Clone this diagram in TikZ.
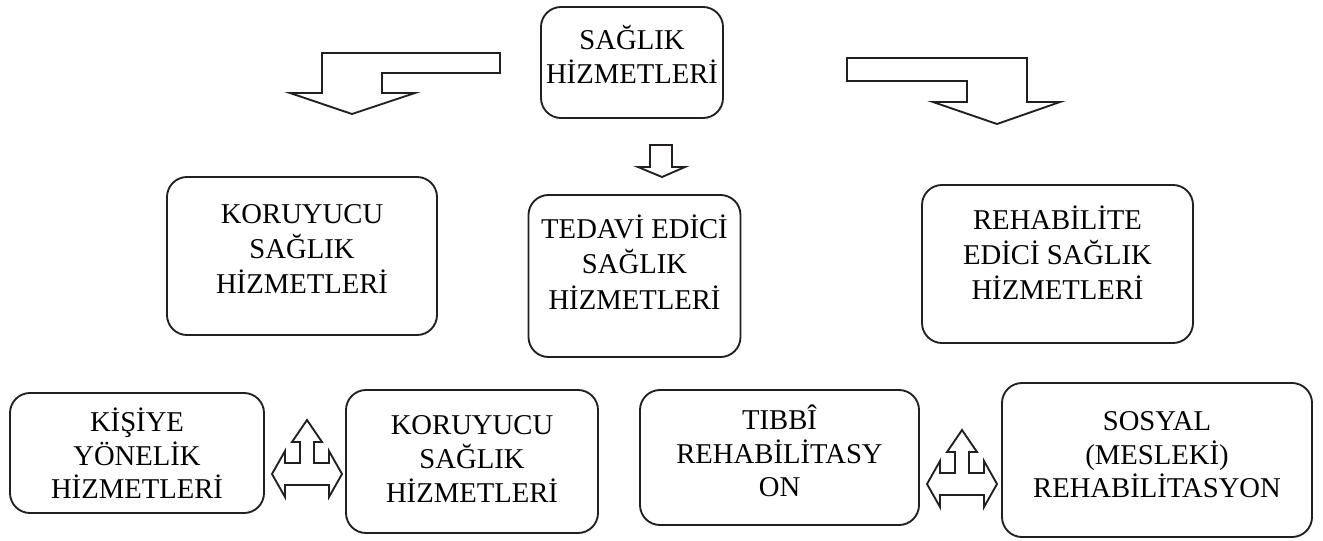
\documentclass[tikz,border=0pt]{standalone}
\usepackage{fontspec}
\setmainfont{Liberation Serif}
\usepackage{tikz}
\usetikzlibrary{positioning}
\definecolor{RichBlack}{cmyk}{0, 0, 0, 1.00}
% text block, raised by #1 without moving the box
\newcommand{\liftup}[2]{\raisebox{#1}[\height][\depth]{\begin{tabular}{@{}c@{}}#2\end{tabular}}}
\tikzset{%
  service/.style={%
    rectangle,%
    rounded corners=15pt,%
    draw=RichBlack,%
    line width=1.4pt,%
    font={\fontsize{21.5}{26.5}\selectfont},%
    inner sep=0pt%
  },
  service_low/.style={%
    service,%
    font={\fontsize{21.5}{25}\selectfont}%
  },
  hollow_arrow/.style={%
    draw=RichBlack,%
    line width=1.4pt,%
    line join=miter,%
    fill=white%
  },
  fork_arrow/.pic={%
    \draw[hollow_arrow] (-35,0) -- (-22,-23) -- (-22,-11) -- (-7,-11)
      -- (-7,-32) -- (-15,-32) -- (0,-54) -- (15,-32) -- (7,-32)
      -- (7,-11) -- (22,-11) -- (22,-23) -- (35,0) -- (22,23)
      -- (22,11) -- (-22,11) -- (-22,23) -- cycle;
  },
}

\begin{document}
\begin{tikzpicture}[x=0.75pt, y=-0.75pt]
  \useasboundingbox (0,0) rectangle (1323,540);

  \node[service_low, minimum width=182*0.75pt, minimum height=111*0.75pt] (SH) at (632,62.5) {\liftup{2.4pt}{SAĞLIK\\HİZMETLERİ}};
  \node[service, minimum width=270*0.75pt, minimum height=158*0.75pt] (KS) at (302,256) {\liftup{3.5pt}{KORUYUCU\\SAĞLIK\\HİZMETLERİ}};
  \node[service, minimum width=212*0.75pt, minimum height=162*0.75pt] (TS) at (634.5,276) {\liftup{7pt}{TEDAVİ EDİCİ\\SAĞLIK\\HİZMETLERİ}};
  \node[service, minimum width=271*0.75pt, minimum height=158*0.75pt] (RS) at (1057.5,264) {\liftup{5pt}{REHABİLİTE\\EDİCİ SAĞLIK\\HİZMETLERİ}};
  \node[service_low, minimum width=254*0.75pt, minimum height=120*0.75pt] (KY) at (137,453) {\liftup{-4pt}{KİŞİYE\\YÖNELİK\\HİZMETLERİ}};
  \node[service_low, minimum width=252*0.75pt, minimum height=143*0.75pt] (KH) at (472,461.5) {\liftup{0pt}{KORUYUCU\\SAĞLIK\\HİZMETLERİ}};
  \node[service_low, minimum width=279*0.75pt, minimum height=135*0.75pt] (TR) at (779.5,457.5) {\liftup{1pt}{TIBBÎ\\REHABİLİTASY\\ON}};
  \node[service_low, minimum width=310*0.75pt, minimum height=154*0.75pt] (SR) at (1157,460) {\liftup{2pt}{SOSYAL\\(MESLEKİ)\\REHABİLİTASYON}};

  % bent arrows from the top box
  \draw[hollow_arrow] (500,53) -- (322,53) -- (322,93) -- (290,93) -- (352,114)
    -- (415,93) -- (382,93) -- (382,73) -- (500,73) -- cycle;
  \draw[hollow_arrow] (847,58) -- (1027,58) -- (1027,102) -- (1060,102) -- (997,124)
    -- (933,102) -- (967,102) -- (967,81) -- (847,81) -- cycle;
  \draw[hollow_arrow] (650,145) -- (672,145) -- (672,167) -- (685,167) -- (662,177)
    -- (638,167) -- (650,167) -- cycle;

  % three-way arrows
  \pic at (307,474) {fork_arrow};
  \pic at (962,484) {fork_arrow};

\end{tikzpicture}
\end{document}
